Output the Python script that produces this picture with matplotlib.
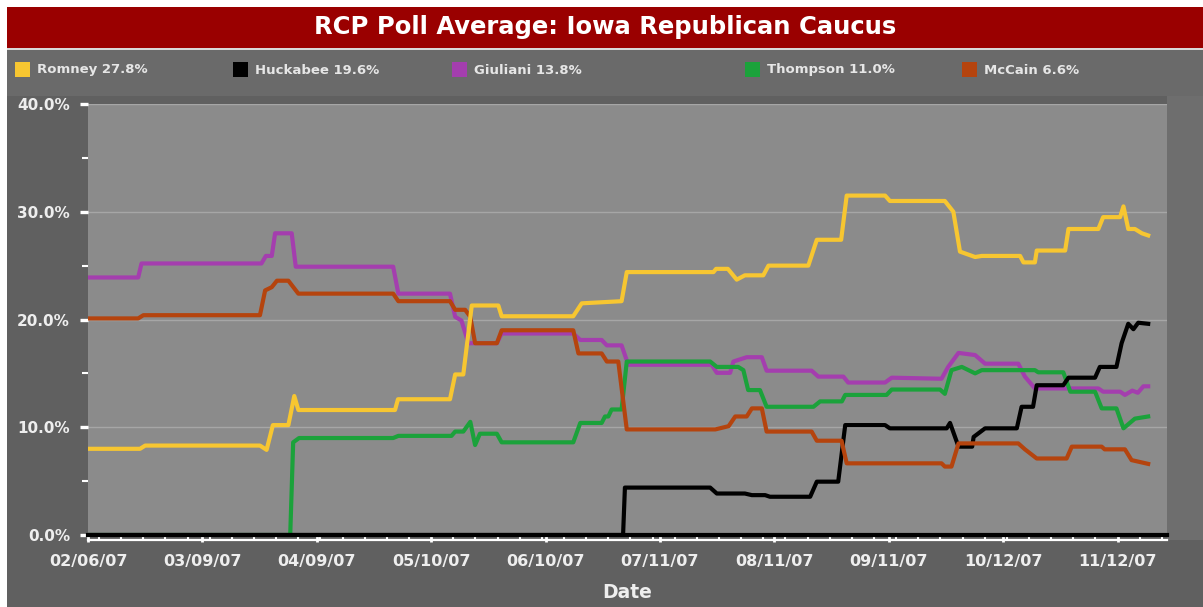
import numpy as np
import pandas as pd
import matplotlib
matplotlib.use("Agg")
import matplotlib.pyplot as plt
import matplotlib.dates as mdates
import matplotlib.transforms as mtransforms
from matplotlib.patches import Rectangle

# ---- data (day offsets from 02/06/07, poll average in %) ----
start = pd.Timestamp("2007-02-06")

romney_days = [0, 14.1, 15.5, 46.6, 48.4, 50.1, 54.3, 55.9, 57.0, 83.2, 84.0, 98.1, 99.5,
               101.7, 104.0, 111.2, 112.1, 131.5, 133.8, 144.6, 146.0, 169.5, 170.2, 173.4,
               175.8, 178.0, 183.0, 184.4, 195.2, 197.5, 204.1, 205.6, 216.0, 217.3, 232.2,
               234.5, 236.3, 240.4, 242.2, 252.6, 253.5, 256.6, 257.1, 264.8, 265.7, 273.8,
               275.1, 279.7, 280.6, 281.9, 283.7, 285.6, 287.3]
romney_vals = [8.0, 8.0, 8.3, 8.3, 7.9, 10.2, 10.2, 12.9, 11.6, 11.6, 12.6, 12.6, 14.9,
               14.9, 21.3, 21.3, 20.3, 20.3, 21.5, 21.7, 24.4, 24.4, 24.7, 24.7,
               23.7, 24.1, 24.1, 25.0, 25.0, 27.4, 27.4, 31.5, 31.5, 31.0, 31.0,
               30.0, 26.3, 25.8, 25.9, 25.9, 25.3, 25.3, 26.4, 26.4, 28.4, 28.4,
               29.5, 29.5, 30.5, 28.4, 28.4, 28.0, 27.8]

huckabee_days = [0, 145.0, 145.5, 168.6, 170.4, 178.0, 179.9, 183.5, 184.8, 195.7, 197.5,
                 203.3, 205.2, 216.0, 217.3, 232.7, 233.6, 235.9, 239.6, 240.0, 243.1,
                 251.7, 253.0, 256.1, 257.1, 264.3, 265.7, 272.9, 274.2, 278.7, 280.1,
                 281.9, 283.3, 284.6, 287.3]
huckabee_vals = [0, 0, 4.4, 4.4, 3.85, 3.85, 3.7, 3.7, 3.55, 3.55, 4.95,
                 4.95, 10.2, 10.2, 9.9, 9.9, 10.4, 8.2, 8.2, 9.1, 9.9,
                 9.9, 11.9, 11.9, 13.9, 13.9, 14.6, 14.6, 15.6, 15.6, 17.8,
                 19.6, 19.1, 19.7, 19.6]

giuliani_days = [0, 13.6, 14.5, 47.0, 48.2, 49.8, 50.7, 55.2, 56.3, 82.7, 84.1, 98.1, 99.5,
                 101.2, 103.1, 110.8, 112.1, 131.5, 133.4, 139.2, 140.6, 144.6, 146.4,
                 169.0, 170.4, 174.0, 174.9, 178.5, 182.6, 183.9, 196.1, 197.9, 204.7,
                 206.0, 216.0, 217.8, 231.3, 233.1, 235.9, 240.4, 243.1, 252.1, 253.9,
                 256.6, 273.8, 275.1, 279.7, 281.0, 283.0, 284.5, 286.0, 287.3]
giuliani_vals = [23.9, 23.9, 25.2, 25.2, 25.9, 25.9, 28.0, 28.0, 24.9, 24.9, 22.4, 22.4, 20.25,
                 19.9, 17.8, 17.8, 18.7, 18.7, 18.1, 18.1, 17.6, 17.6, 15.8,
                 15.8, 15.05, 15.05, 16.1, 16.5, 16.5, 15.25, 15.25, 14.7, 14.7,
                 14.15, 14.15, 14.6, 14.5, 15.6, 16.9, 16.7, 15.9, 15.9, 14.7,
                 13.6, 13.6, 13.3, 13.3, 13.0, 13.4, 13.2, 13.8, 13.8]

thompson_days = [0, 54.8, 55.6, 57.2, 82.7, 84.1, 98.5, 99.5, 101.7, 103.6, 104.9, 106.2,
                 110.8, 112.1, 131.5, 133.4, 139.2, 140.1, 141.0, 141.9, 144.6, 146.0,
                 168.6, 170.4, 176.2, 177.6, 178.9, 182.1, 183.9, 196.6, 198.4, 204.3,
                 205.2, 216.4, 217.8, 230.9, 232.2, 234.0, 236.8, 240.4, 242.2, 256.6,
                 257.5, 264.3, 266.2, 272.9, 274.7, 278.7, 280.6, 283.7, 287.3]
thompson_vals = [0, 0, 8.6, 9.0, 9.0, 9.2, 9.2, 9.6, 9.6, 10.5, 8.35, 9.4,
                 9.4, 8.6, 8.6, 10.4, 10.4, 11.0, 11.0, 11.65, 11.65, 16.1,
                 16.1, 15.6, 15.6, 15.3, 13.45, 13.45, 11.9, 11.9, 12.4, 12.4,
                 13.0, 13.0, 13.5, 13.5, 13.1, 15.3, 15.6, 15.0, 15.3, 15.3,
                 15.1, 15.1, 13.3, 13.3, 11.75, 11.75, 9.9, 10.8, 11.0]

mccain_days = [0, 13.6, 15.0, 46.6, 48.0, 49.8, 51.2, 54.3, 57.0, 82.7, 84.1, 98.1, 99.5,
               102.2, 103.6, 104.9, 110.8, 112.1, 131.5, 132.9, 139.2, 140.6, 143.7, 146.0,
               170.0, 173.6, 175.4, 178.5, 179.9, 182.6, 183.9, 196.1, 197.5, 204.2, 205.6,
               231.3, 232.2, 234.0, 235.9, 252.1, 253.9, 257.1, 265.2, 266.6, 274.7, 275.5,
               281.0, 282.8, 287.3]
mccain_vals = [20.1, 20.1, 20.4, 20.4, 22.7, 23.0, 23.6, 23.6, 22.4, 22.4, 21.7, 21.7, 20.9,
               20.9, 20.25, 17.8, 17.8, 19.0, 19.0, 16.85, 16.85, 16.1, 16.1, 9.8,
               9.8, 10.1, 11.0, 11.0, 11.75, 11.75, 9.6, 9.6, 8.75, 8.75, 6.65,
               6.65, 6.35, 6.35, 8.5, 8.5, 7.95, 7.1, 7.1, 8.2, 8.2, 7.95,
               7.95, 6.95, 6.6]

names = ["Romney", "Huckabee", "Giuliani", "Thompson", "McCain"]
latest = [27.8, 19.6, 13.8, 11.0, 6.6]
colors = ["#f7c631", "#000000", "#a43eae", "#1ba23b", "#b5440e"]
series = [(romney_days, romney_vals), (huckabee_days, huckabee_vals),
          (giuliani_days, giuliani_vals), (thompson_days, thompson_vals),
          (mccain_days, mccain_vals)]

W, H = 1203, 607
fig = plt.figure(figsize=(W / 100, H / 100), dpi=100)
fig.patch.set_facecolor("#606060")


def box(x0, y0, x1, y1, color):
    # rectangle in pixel coordinates (origin top-left)
    fig.add_artist(Rectangle((x0 / W, 1 - y1 / H), (x1 - x0) / W, (y1 - y0) / H,
                             transform=fig.transFigure, color=color, lw=0, zorder=0))


box(0, 0, W, 7, "white")
box(0, 0, 7, H, "white")
box(7, 7, W, 48, "#9a0000")
box(7, 48, W, 50, "#d9d9d9")
box(7, 50, W, 96, "#6a6a6a")
box(1167, 96, W, 540, "#6e6e6e")

fig.text(605 / W, 1 - 27 / H, "RCP Poll Average: Iowa Republican Caucus",
         ha="center", va="center", color="white", fontsize=17.5, fontweight="bold")

# legend row
legend_x = [15, 233, 452, 745, 962]
for lx, name, val, col in zip(legend_x, names, latest, colors):
    box(lx, 62, lx + 15, 77, col)
    fig.text((lx + 22) / W, 1 - 70 / H, f"{name} {val:.1f}%", ha="left", va="center",
             color="#e6e6e6", fontsize=9.5, fontweight="bold")

ax = fig.add_axes([88 / W, 1 - 535 / H, (1167 - 88) / W, (535 - 104) / H])
ax.set_facecolor("#8b8b8b")

order = [2, 3, 1, 4, 0]
for i in order:
    d, v = series[i]
    x = start + pd.to_timedelta(d, unit="D")
    ax.plot(x, v, color=colors[i], lw=3, solid_joinstyle="round", zorder=2 + order.index(i) * 0.1)

ax.set_ylim(0, 40)
ax.set_xlim(start, start + pd.Timedelta(days=292.4))

for s in ["top", "right", "left"]:
    ax.spines[s].set_visible(False)
ax.spines["bottom"].set_color("black")
ax.spines["bottom"].set_linewidth(3)
ax.spines["bottom"].set_zorder(5)

# white axis line just under the black baseline
off = mtransforms.offset_copy(ax.transAxes, fig=fig, x=0, y=-4.5, units="dots")
ax.plot([0, 1], [0, 0], transform=off, color="white", lw=1.6, clip_on=False, zorder=4)

yt = [0, 10, 20, 30, 40]
ax.set_yticks(yt)
ax.set_yticklabels([f"{v:.1f}%" for v in yt], fontweight="bold")
ax.set_yticks([5, 15, 25, 35], minor=True)
ax.yaxis.grid(True, color="#a6a6a6", lw=1)
ax.set_axisbelow(True)

major_dates = pd.date_range(start, periods=10, freq="31D")
ax.set_xticks(major_dates)
ax.xaxis.set_major_formatter(mdates.DateFormatter("%m/%d/%y"))
ax.set_xticks(pd.date_range(start + pd.Timedelta(days=3), periods=49, freq="6D"), minor=True)
for lab in ax.get_xticklabels():
    lab.set_fontweight("bold")

ax.tick_params(axis="y", which="major", colors="white", labelcolor="#eeeeee",
               length=6, width=2.4, pad=7, labelsize=11)
ax.tick_params(axis="y", which="minor", colors="white", length=4, width=1.5)
ax.tick_params(axis="x", which="major", colors="white", labelcolor="#eeeeee",
               length=5, width=2, pad=9, labelsize=11.5)
ax.tick_params(axis="x", which="minor", colors="white", length=3, width=1.5)

ax.set_xlabel("Date", color="#eeeeee", fontsize=13.5, fontweight="bold", labelpad=10)

fig.savefig("out.png", dpi=100, facecolor=fig.get_facecolor())
